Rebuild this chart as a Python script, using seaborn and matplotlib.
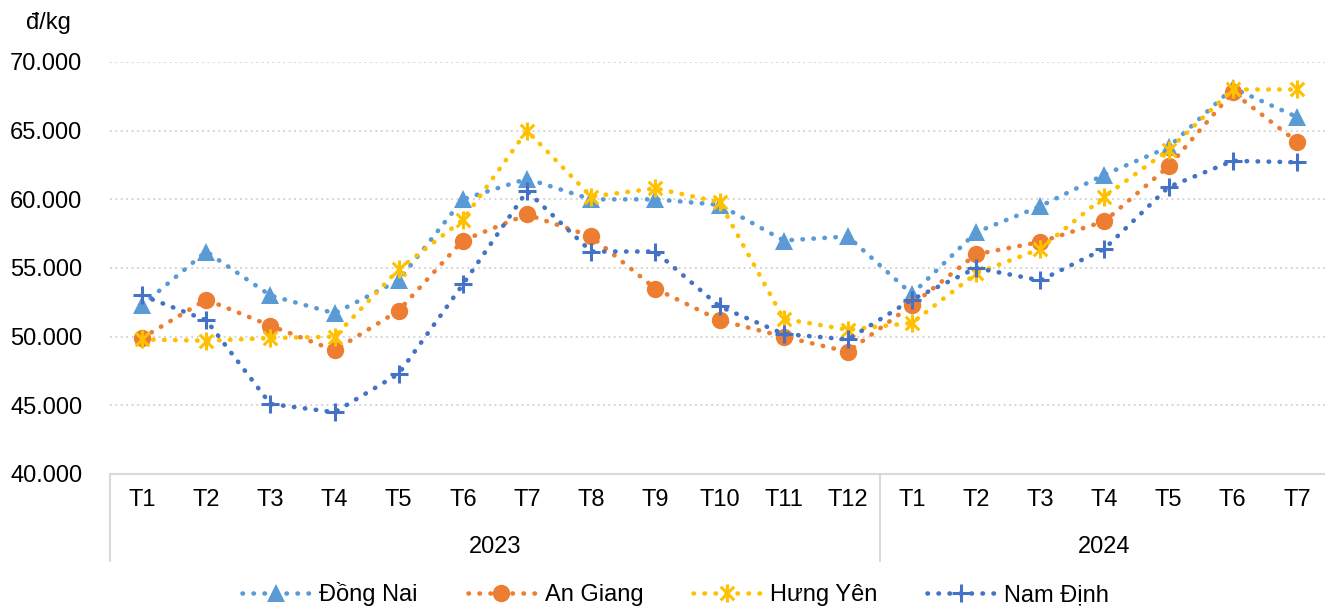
import numpy as np
import pandas as pd
import matplotlib
matplotlib.use("Agg")
import matplotlib.pyplot as plt
from matplotlib.path import Path
from matplotlib.ticker import FuncFormatter
import seaborn as sns

# Data (đ/kg), T1/2023 .. T7/2024
months = ["T1", "T2", "T3", "T4", "T5", "T6", "T7", "T8", "T9", "T10", "T11", "T12",
          "T1", "T2", "T3", "T4", "T5", "T6", "T7"]
years = ["2023", "2024"]
year_span = [(0, 11), (12, 18)]

dong_nai = [52300, 56200, 53000, 51700, 54100, 60000, 61500, 60000, 60000, 59600, 57000, 57300,
            53100, 57600, 59500, 61800, 63800, 68100, 66000]
an_giang = [49900, 52700, 50800, 49000, 51900, 57000, 58900, 57300, 53500, 51200, 50000, 48900,
            52300, 56000, 56900, 58400, 62400, 67800, 64200]
hung_yen = [49800, 49700, 49900, 50000, 54900, 58500, 65000, 60200, 60800, 59800, 51300, 50500,
            51000, 54600, 56400, 60200, 63600, 68000, 68000]
nam_dinh = [53000, 51200, 45100, 44500, 47300, 53800, 60600, 56200, 56200, 52200, 50200, 49800,
            52700, 55000, 54100, 56400, 60900, 62800, 62700]

series_names = ["Đồng Nai", "An Giang", "Hưng Yên", "Nam Định"]
series_vals = [dong_nai, an_giang, hung_yen, nam_dinh]
colors = ["#5B9BD5", "#ED7D31", "#FFC000", "#4472C4"]

# asterisk marker like Excel's star (X plus vertical bar)
star = Path([(0, -1), (0, 1), (-0.75, -0.75), (0.75, 0.75), (-0.75, 0.75), (0.75, -0.75)],
            [Path.MOVETO, Path.LINETO, Path.MOVETO, Path.LINETO, Path.MOVETO, Path.LINETO])
markers = ["^", "o", star, "+"]
msizes = [12.5, 12.5, 13, 13]
edge_w = [0, 0, 2.2, 2.2]

sns.set_style("white")
plt.rcParams["font.family"] = ["Liberation Sans", "DejaVu Sans"]
plt.rcParams["font.size"] = 17
plt.rcParams["text.color"] = "black"
plt.rcParams["xtick.labelcolor"] = "black"
plt.rcParams["ytick.labelcolor"] = "black"

fig = plt.figure(figsize=(13.25, 6.06), dpi=100)
ax = fig.add_axes([110 / 1325, 132 / 606, 1219 / 1325, 412 / 606])

x = np.arange(len(months))
df = pd.DataFrame({"x": np.tile(x, 4),
                   "value": np.concatenate(series_vals),
                   "region": np.repeat(series_names, len(months))})

for name, col, mk, ms, ew in zip(series_names, colors, markers, msizes, edge_w):
    sub = df[df["region"] == name]
    sns.lineplot(data=sub, x="x", y="value", ax=ax, color=col, label=name,
                 marker=mk, markersize=ms, markeredgewidth=ew,
                 markeredgecolor=col, markerfacecolor=col,
                 linewidth=3.3, linestyle=(0, (0.1, 2.3)), dash_capstyle="round")

ax.set_xlim(-0.5, 18.5)
ax.set_ylim(40000, 70000)
ax.set_yticks(np.arange(40000, 70001, 5000))
ax.yaxis.set_major_formatter(FuncFormatter(lambda v, p: f"{v:,.0f}".replace(",", ".")))
ax.set_xticks(x)
ax.set_xticklabels(months)
ax.tick_params(axis="x", length=0, pad=11, labelsize=17)
ax.tick_params(axis="y", length=0, pad=20, labelsize=17)
ax.set_xlabel("")
ax.set_ylabel("")

for y in np.arange(45000, 70001, 5000):
    ax.axhline(y, color="#D0D0D0", linestyle=(0, (1, 2)), linewidth=1.3, zorder=0)

for s in ["top", "right", "left"]:
    ax.spines[s].set_visible(False)
ax.spines["bottom"].set_color("#D9D9D9")
ax.spines["bottom"].set_linewidth(1.5)

# two-level category axis
tr = ax.get_xaxis_transform()
for xs in [-0.5, 11.5, 18.5]:
    ax.plot([xs, xs], [0, -0.21], transform=tr, color="#D9D9D9", linewidth=1.5, clip_on=False)
for yr, (a, b) in zip(years, year_span):
    ax.text((a + b) / 2, -0.177, yr, transform=tr, ha="center", va="center", fontsize=17)

fig.text(26 / 1325, 1 - 23 / 606, "đ/kg", ha="left", va="center", fontsize=17)

ax.get_legend().remove()
handles, labels = ax.get_legend_handles_labels()
fig.legend(handles, labels, loc="center", bbox_to_anchor=(0.51, 12 / 606), ncol=4,
           frameon=False, handlelength=2.85, columnspacing=2.1, handletextpad=0.42, fontsize=17)

fig.savefig("out.png", dpi=100)
